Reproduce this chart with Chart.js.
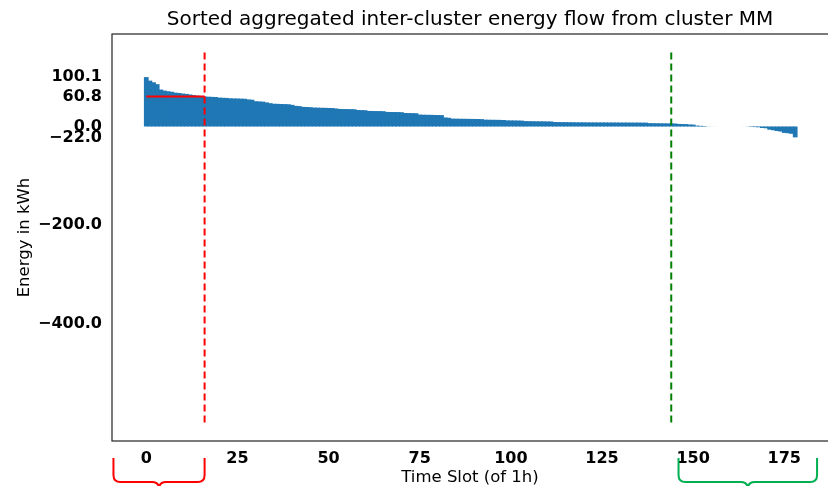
<!DOCTYPE html>
<html>
<head>
<meta charset="utf-8">
<script src="https://cdn.jsdelivr.net/npm/chart.js@4/dist/chart.umd.min.js"></script>
<style>
  html, body { margin: 0; padding: 0; background: #fff; }
  #flow-chart { display: block; }
</style>
</head>
<body>
<canvas id="flow-chart" width="828" height="486"></canvas>
<script>
// sorted hourly energy flow of cluster MM, kWh (slot 0 = largest export)
const energy = [
  100.1, 93.0, 89.6, 85.8, 74.9, 72.8, 71.5, 70.4, 68.6, 67.9,
  66.8, 66.1, 64.9, 63.7, 62.6, 61.7, 60.8, 60.4, 60.1, 59.8,
  58.6, 58.2, 57.9, 57.2, 56.9, 56.7, 56.5, 56.2, 54.8, 54.3,
  51.2, 50.8, 50.4, 48.9, 47.3, 46.1, 45.9, 45.6, 45.4, 45.1,
  43.9, 41.8, 41.3, 39.8, 39.5, 39.2, 38.4, 38.2, 38.0, 37.8,
  37.6, 37.4, 36.6, 35.6, 35.4, 35.3, 35.2, 35.0, 33.4, 33.2,
  33.0, 31.6, 31.4, 31.3, 31.2, 31.0, 29.6, 29.4, 29.3, 29.2,
  29.0, 27.4, 27.2, 27.1, 26.9, 24.2, 23.9, 23.7, 23.6, 23.4,
  23.2, 23.0, 18.3, 17.6, 15.9, 15.8, 15.7, 15.6, 15.5, 15.4,
  15.3, 15.2, 14.9, 13.8, 13.7, 13.6, 13.5, 13.4, 13.2, 12.4,
  12.3, 12.2, 12.1, 11.9, 10.9, 10.8, 10.7, 10.6, 10.5, 10.4,
  10.3, 10.2, 9.0, 8.9, 8.8, 8.8, 8.7, 8.6, 8.5, 8.4,
  8.4, 8.3, 8.3, 8.3, 8.2, 8.2, 8.2, 8.1, 8.1, 8.1,
  8.0, 8.0, 8.0, 7.9, 7.9, 7.9, 7.8, 7.8, 6.8, 6.7,
  6.6, 6.5, 6.4, 6.3, 6.2, 6.1, 5.2, 5.0, 4.8, 4.1,
  3.9, 1.8, 1.4, 1.0, 0.2, 0.1, 0.1, 0.0, 0.0, 0.0,
  0.0, 0.0, 0.0, 0.0, -0.1, -0.2, -0.9, -1.2, -1.6, -3.0,
  -3.6, -6.5, -7.6, -9.1, -10.2, -13.0, -13.6, -14.8, -22.0
];

const xTicks = [0, 25, 50, 75, 100, 125, 150, 175];
const yTicks = [100.1, 60.8, 0.0, -22.0, -200.0, -400.0];

// markers: upper threshold slot, lower threshold slot and the level at the first one
const redSlot = 16;
const greenSlot = 144;
const redLevel = 60.8;
const markerSpan = [-600, 150];

// brace ranges under the x axis, in slot units
const redBrace = [-9, 16];
const greenBrace = [146, 184];

const canvas = document.querySelector("#flow-chart");

const frame = {
  id: "frame",
  afterDraw(chart) {
    const { ctx, chartArea: a } = chart;
    ctx.save();
    ctx.strokeStyle = "#222";
    ctx.lineWidth = 1.2;
    ctx.strokeRect(a.left, a.top, a.right - a.left + 4, a.bottom - a.top);
    ctx.restore();
  }
};

const drawBrace = (ctx, x0, x1, color) => {
  const top = 458, bottom = 482, r = 7;
  const mid = (x0 + x1) / 2;
  ctx.save();
  ctx.strokeStyle = color;
  ctx.lineWidth = 2;
  ctx.lineJoin = "round";
  ctx.beginPath();
  ctx.moveTo(x0, top);
  ctx.lineTo(x0, bottom - r);
  ctx.quadraticCurveTo(x0, bottom, x0 + r, bottom);
  ctx.lineTo(mid - r, bottom);
  ctx.quadraticCurveTo(mid, bottom, mid, bottom + r);
  ctx.quadraticCurveTo(mid, bottom, mid + r, bottom);
  ctx.lineTo(x1 - r, bottom);
  ctx.quadraticCurveTo(x1, bottom, x1, bottom - r);
  ctx.lineTo(x1, top);
  ctx.stroke();
  ctx.restore();
};

const braces = {
  id: "braces",
  afterDraw(chart) {
    const x = chart.scales.x;
    drawBrace(chart.ctx, x.getPixelForValue(redBrace[0]), x.getPixelForValue(redBrace[1]), "#ff0000");
    drawBrace(chart.ctx, x.getPixelForValue(greenBrace[0]), x.getPixelForValue(greenBrace[1]), "#00b050");
  }
};

new Chart(canvas, {
  data: {
    datasets: [
      {
        type: "line",
        data: [{ x: redSlot, y: markerSpan[0] }, { x: redSlot, y: markerSpan[1] }],
        borderColor: "#ff0000",
        borderWidth: 2,
        borderDash: [7, 4],
        pointRadius: 0,
        order: 0
      },
      {
        type: "line",
        data: [{ x: greenSlot, y: markerSpan[0] }, { x: greenSlot, y: markerSpan[1] }],
        borderColor: "#008000",
        borderWidth: 2,
        borderDash: [7, 4],
        pointRadius: 0,
        order: 0
      },
      {
        type: "line",
        data: [{ x: 0, y: redLevel }, { x: redSlot, y: redLevel }],
        borderColor: "#ff0000",
        borderWidth: 2,
        pointRadius: 0,
        order: 0
      },
      {
        type: "bar",
        data: energy.map((v, i) => ({ x: i, y: v })),
        backgroundColor: "#1f77b4",
        borderWidth: 0,
        inflateAmount: 0,
        // slight overlap so neighbouring bars leave no seams
        barPercentage: 1.3,
        categoryPercentage: 1,
        order: 1
      }
    ]
  },
  options: {
    responsive: false,
    animation: false,
    devicePixelRatio: 1,
    layout: { padding: { left: 0, right: 0, top: 0, bottom: 0 } },
    plugins: {
      legend: { display: false },
      tooltip: { enabled: false },
      title: {
        display: true,
        fullSize: false,
        text: "Sorted aggregated inter-cluster energy flow from cluster MM",
        color: "#000",
        font: { family: "DejaVu Sans", size: 20, weight: "normal", lineHeight: 1.2 },
        padding: { top: 8, bottom: 2 }
      }
    },
    scales: {
      x: {
        type: "linear",
        offset: false,
        min: -9.4,
        max: 187.0,
        afterFit: (s) => { s.height = 45; },
        afterBuildTicks: (s) => { s.ticks = xTicks.map((v) => ({ value: v })); },
        grid: { display: false, drawTicks: true, tickLength: 5, tickColor: "#222" },
        border: { display: false },
        ticks: {
          autoSkip: false,
          maxRotation: 0,
          padding: 3,
          color: "#000",
          font: { family: "DejaVu Sans", size: 16, weight: "bold" },
          callback: (v) => String(v)
        },
        title: {
          display: true,
          text: "Time Slot (of 1h)",
          color: "#000",
          font: { family: "DejaVu Sans", size: 16.5, lineHeight: 1 },
          padding: { top: 0, bottom: 0 }
        }
      },
      y: {
        type: "linear",
        min: -637.5,
        max: 187.5,
        afterFit: (s) => { s.width = 112; },
        afterBuildTicks: (s) => { s.ticks = yTicks.map((v) => ({ value: v })); },
        grid: { display: false, drawTicks: true, tickLength: 5, tickColor: "#222" },
        border: { display: false },
        ticks: {
          autoSkip: false,
          padding: 5,
          color: "#000",
          font: { family: "DejaVu Sans", size: 16, weight: "bold" },
          callback: (v) => (v < 0 ? "\u2212" + Math.abs(v).toFixed(1) : v.toFixed(1))
        },
        title: {
          display: true,
          text: "Energy in kWh",
          color: "#000",
          font: { family: "DejaVu Sans", size: 16.5, lineHeight: 1.2 },
          padding: { top: 15, bottom: 0 }
        }
      }
    }
  },
  plugins: [frame, braces]
});
</script>
</body>
</html>
